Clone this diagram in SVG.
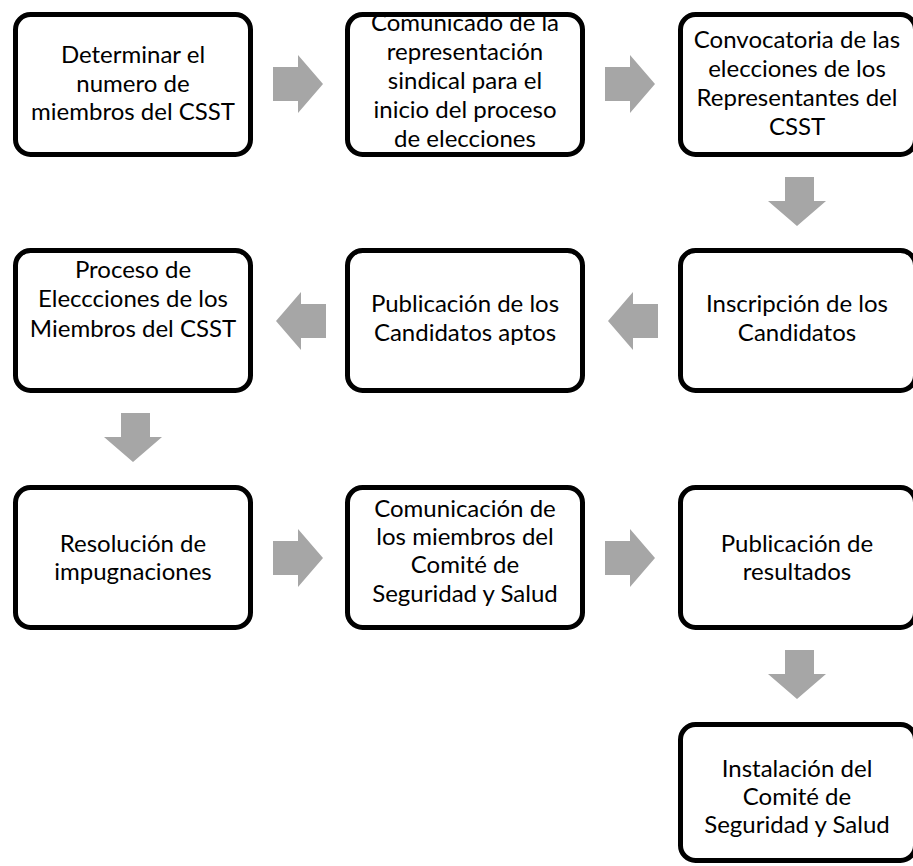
<svg xmlns="http://www.w3.org/2000/svg" xmlns:xlink="http://www.w3.org/1999/xlink" width="913" height="866" viewBox="0 0 913 866">
<style>
.box{fill:#fff;stroke:#000;stroke-width:5}
.t{font-family:Lato,"Liberation Sans",sans-serif;font-size:24px;fill:#000;text-anchor:middle}
.arr{fill:#A6A6A6}
</style>
<defs>
<path id="ar" class="arr" d="M0,12 H25 V0 L50,29 L25,58 V46 H0 Z"/>
<path id="al" class="arr" d="M50,12 H25 V0 L0,29 L25,58 V46 H50 Z"/>
<path id="ad" class="arr" d="M17,0 H46 V24 H58 L29,49 L0,24 H17 Z"/>
</defs>
<rect width="913" height="866" fill="#fff"/>
<g id="connectors">
<use xlink:href="#ar" x="273" y="55"/>
<use xlink:href="#ar" x="605" y="55"/>
<use xlink:href="#ad" x="768" y="177"/>
<use xlink:href="#al" x="608" y="292"/>
<use xlink:href="#al" x="276" y="292"/>
<use xlink:href="#ad" x="104" y="413"/>
<use xlink:href="#ar" x="273" y="529"/>
<use xlink:href="#ar" x="605" y="529"/>
<use xlink:href="#ad" x="768" y="650"/>
</g>
<g id="n1"><rect class="box" x="15.5" y="14.5" width="235" height="140" rx="15"/>
<text class="t" x="133"><tspan x="133" y="63">Determinar el</tspan><tspan x="133" y="92">numero de</tspan><tspan x="133" y="120">miembros del CSST</tspan></text></g>
<g id="n2"><rect class="box" x="347.5" y="14.5" width="235" height="140" rx="15"/>
<text class="t"><tspan x="465" y="31">Comunicado de la</tspan><tspan x="465" y="60">representación</tspan><tspan x="465" y="89">sindical para el</tspan><tspan x="465" y="118">inicio del proceso</tspan><tspan x="465" y="147">de elecciones</tspan></text></g>
<g id="n3"><rect class="box" x="680.5" y="14.5" width="235" height="140" rx="15"/>
<text class="t"><tspan x="797" y="48">Convocatoria de las</tspan><tspan x="797" y="77">elecciones de los</tspan><tspan x="797" y="106">Representantes del</tspan><tspan x="797" y="135">CSST</tspan></text></g>
<g id="n4"><rect class="box" x="680.5" y="250.5" width="235" height="140" rx="15"/>
<text class="t"><tspan x="797" y="312">Inscripción de los</tspan><tspan x="797" y="341">Candidatos</tspan></text></g>
<g id="n5"><rect class="box" x="347.5" y="250.5" width="235" height="140" rx="15"/>
<text class="t"><tspan x="465" y="312">Publicación de los</tspan><tspan x="465" y="341">Candidatos aptos</tspan></text></g>
<g id="n6"><rect class="box" x="15.5" y="250.5" width="235" height="140" rx="15"/>
<text class="t"><tspan x="133" y="278">Proceso de</tspan><tspan x="133" y="307">Eleccciones de los</tspan><tspan x="133" y="337">Miembros del CSST</tspan></text></g>
<g id="n7"><rect class="box" x="15.5" y="487.5" width="235" height="140" rx="15"/>
<text class="t"><tspan x="133" y="552">Resolución de</tspan><tspan x="133" y="580">impugnaciones</tspan></text></g>
<g id="n8"><rect class="box" x="347.5" y="487.5" width="235" height="140" rx="15"/>
<text class="t"><tspan x="465" y="517">Comunicación de</tspan><tspan x="465" y="545">los miembros del</tspan><tspan x="465" y="573">Comité de</tspan><tspan x="465" y="602">Seguridad y Salud</tspan></text></g>
<g id="n9"><rect class="box" x="680.5" y="487.5" width="235" height="140" rx="15"/>
<text class="t"><tspan x="797" y="552">Publicación de</tspan><tspan x="797" y="580">resultados</tspan></text></g>
<g id="n10"><rect class="box" x="680.5" y="724.5" width="235" height="136" rx="15"/>
<text class="t"><tspan x="797" y="777">Instalación del</tspan><tspan x="797" y="805">Comité de</tspan><tspan x="797" y="833">Seguridad y Salud</tspan></text></g>
</svg>
